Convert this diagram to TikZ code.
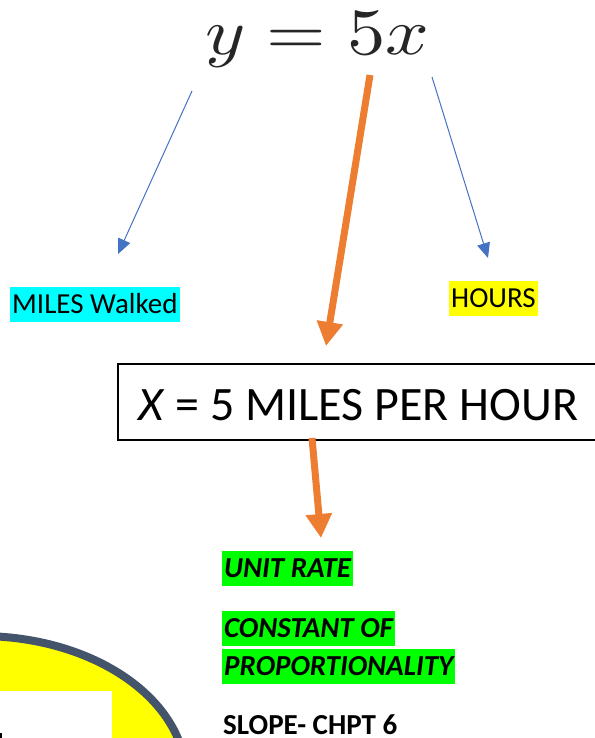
\documentclass[tikz,border=0pt]{standalone}
\usepackage[no-math]{fontspec}
\setmainfont{Carlito}
\usetikzlibrary{arrows.meta}
\definecolor{wordorange}{HTML}{ED7D31}
\definecolor{wordblue}{HTML}{4472C4}
\definecolor{slate}{HTML}{44546A}
\definecolor{hlgreen}{HTML}{00FF00}
\definecolor{hlcyan}{HTML}{00FFFF}
\definecolor{hlyellow}{HTML}{FFFF00}
\tikzset{
  hl/.style={inner xsep=2pt, inner ysep=0pt, text height=26.5pt, text depth=8.5pt,
    anchor=base west, font=\fontsize{29}{35}\selectfont},
  greenhl/.style={hl, fill=hlgreen, font=\fontsize{29}{35}\selectfont\bfseries\itshape},
  thinarrow/.style={draw=wordblue, line width=1pt, -{Triangle[length=15pt,width=13pt]}},
  fatarrow/.style={draw=wordorange, line width=7pt, -{Triangle[length=24pt,width=25pt]}}
}
\begin{document}
\begin{tikzpicture}[x=1pt,y=-1pt]
\useasboundingbox (0,0) rectangle (594,738);
\fill[white] (0,0) rectangle (594,738);
% bottom-left ellipse
\draw[slate, line width=8pt, fill=hlyellow] (-20,778) ellipse [x radius=206, y radius=142];
\fill[white] (0,691) rectangle (112,745);
\fill[black] (0,733) rectangle (1.5,738);
% equation
\node[anchor=base, inner sep=0pt, text=black!85] (eq) at (317.5,54.5)
  {\scalebox{7.66}[6.6]{\fontsize{10}{12}\selectfont$y = 5x$}};
% labels
\node[hl, fill=hlcyan] (miles) at (10,313) {MILES Walked};
\node[hl, fill=hlyellow] (hours) at (449,307) {HOURS};
\node[draw, line width=2pt, anchor=north west, inner xsep=20pt, inner ysep=0pt,
  text height=56pt, text depth=20pt,
  font=\fontsize{48}{56}\selectfont] (rate) at (117,363)
  {\makebox[470pt][l]{\textit{X} = 5 MILES PER HOUR}};
\node[greenhl] (unit) at (222,577) {UNIT RATE};
\node[greenhl] (const) at (222,637) {CONSTANT OF};
\node[greenhl] (prop) at (222,675) {PROPORTIONALITY};
\node[anchor=base west, inner sep=0pt, font=\fontsize{29}{35}\selectfont\bfseries] (slope) at (223,734) {SLOPE- CHPT 6};
% connector ends
\coordinate (ya) at (192,91);
\coordinate (yb) at (118,254);
\coordinate (xa) at (432,77);
\coordinate (xb) at (488,258);
\coordinate (ka) at (370,75);
\coordinate (kb) at (326,346);
\coordinate (ra) at (312,438);
\coordinate (rb) at (321,538);
\draw[thinarrow] (ya) -- (yb);
\draw[thinarrow] (xa) -- (xb);
\draw[fatarrow] (ka) -- (kb);
\draw[fatarrow] (ra) -- (rb);
\end{tikzpicture}
\end{document}
